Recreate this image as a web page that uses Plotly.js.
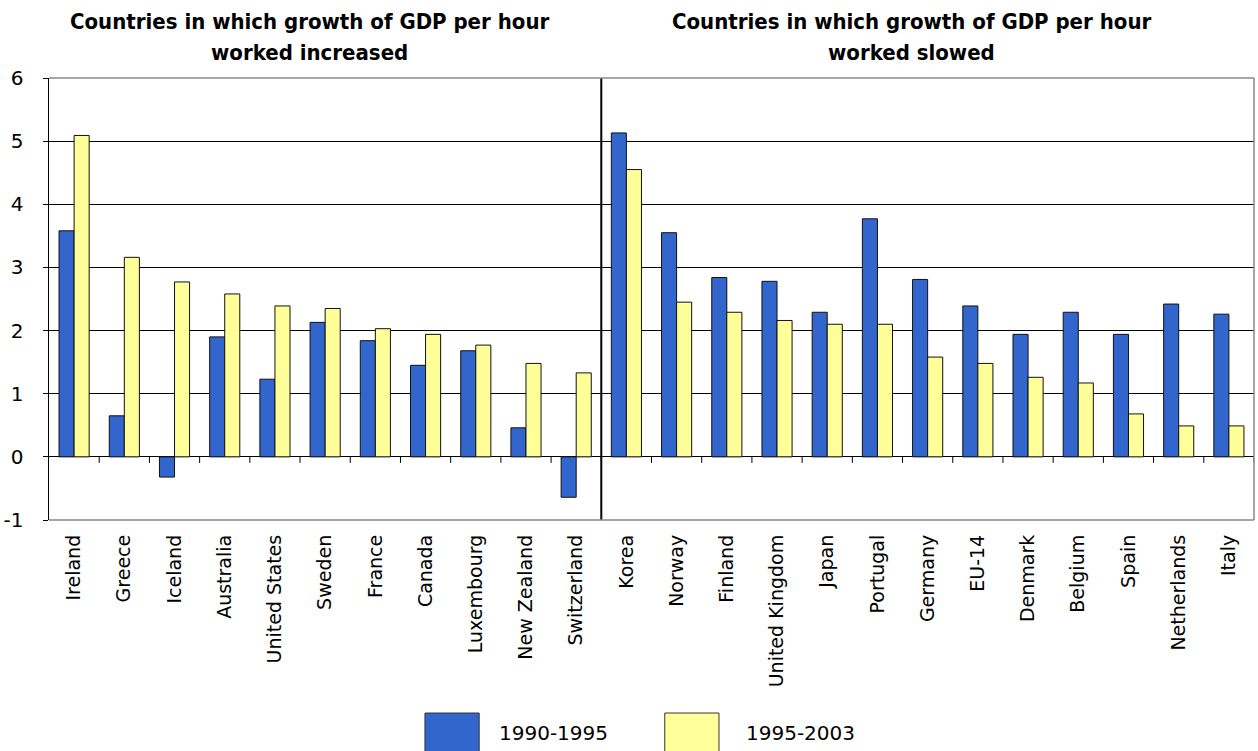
<!DOCTYPE html>
<html>
<head>
<meta charset="utf-8">
<script src="https://cdn.plot.ly/plotly-3.0.1.min.js"></script>
<style>html,body{margin:0;padding:0;background:#fff}#chart{width:1258px;height:751px}</style>
</head>
<body>
<div id="chart"></div>
<script>
// Categories: first 11 = growth increased, last 13 = growth slowed
const categories = ["Ireland","Greece","Iceland","Australia","United States","Sweden","France","Canada","Luxembourg","New Zealand","Switzerland",
  "Korea","Norway","Finland","United Kingdom","Japan","Portugal","Germany","EU-14","Denmark","Belgium","Spain","Netherlands","Italy"];
const increasedCount = 11;
const seriesNames = ["1990-1995","1995-2003"];
const values1990_1995 = [3.58,0.65,-0.32,1.90,1.23,2.13,1.84,1.45,1.68,0.46,-0.64,
  5.13,3.55,2.84,2.78,2.29,3.77,2.81,2.39,1.94,2.29,1.94,2.42,2.26];
const values1995_2003 = [5.09,3.16,2.77,2.58,2.39,2.35,2.03,1.94,1.77,1.48,1.33,
  4.55,2.45,2.29,2.16,2.10,2.10,1.58,1.48,1.26,1.17,0.68,0.49,0.49];
const yTicks = [-1,0,1,2,3,4,5,6];
const panelTitleLines = [["Countries in which growth of GDP per hour","worked increased"],
  ["Countries in which growth of GDP per hour","worked slowed"]];

const colors = ["#3366CC","#FFFF99"];
const FONT = "DejaVu Sans, Verdana, sans-serif";
const TFONT = "DejaVu Sans Condensed, DejaVu Sans, sans-serif";

const traces = [values1990_1995, values1995_2003].map((v,i)=>({
  type:"bar", x:categories, y:v, name:seriesNames[i],
  marker:{color:colors[i], line:{color:"#111", width:1}},
  showlegend:false, hoverinfo:"x+y+name"
}));

const shapes = [];
// tick marks on zero line at category boundaries
for (let i=0;i<categories.length;i++){
  shapes.push({type:"line", xref:"x", yref:"y", ysizemode:"pixel", yanchor:0,
    x0:i+0.5, x1:i+0.5, y0:-6, y1:0, line:{color:"#000", width:1}, layer:"above"});
}
// divider between the two groups
shapes.push({type:"line", xref:"x", yref:"paper", x0:increasedCount-0.5, x1:increasedCount-0.5, y0:0, y1:1,
  line:{color:"#000", width:2}, layer:"above"});
// plot border (grey top/right/bottom)
shapes.push({type:"line", xref:"paper", yref:"paper", x0:0, x1:1, y0:1, y1:1, line:{color:"#888", width:1.5}, layer:"above"});
shapes.push({type:"line", xref:"paper", yref:"paper", x0:1, x1:1, y0:0, y1:1, line:{color:"#888", width:1.5}, layer:"above"});
shapes.push({type:"line", xref:"paper", yref:"paper", x0:0, x1:1, y0:0, y1:0, line:{color:"#888", width:1.5}, layer:"above"});

// custom legend
const legendBoxes = [[0.312,0.357],[0.511,0.556]];
const legendText = [0.3718,0.5768];
const annotations = [];
legendBoxes.forEach((b,i)=>{
  shapes.push({type:"rect", xref:"paper", yref:"paper", x0:b[0], x1:b[1], y0:-0.56, y1:-0.4367,
    fillcolor:colors[i], line:{color:"#333", width:1}});
  annotations.push({xref:"paper", yref:"paper", x:legendText[i], y:-0.482, xanchor:"left", yanchor:"middle",
    text:seriesNames[i], showarrow:false, font:{family:FONT, size:20, color:"#000"}});
});
// panel titles
const leftCenter = (increasedCount-1)/2;
const rightCenter = increasedCount + (categories.length-increasedCount-1)/2;
const lineY = [1.1267, 1.0566];
[leftCenter,rightCenter].forEach((c,i)=>{
  panelTitleLines[i].forEach((t,j)=>{
    annotations.push({xref:"x", yref:"paper", x:c, y:lineY[j], xanchor:"center", yanchor:"middle", xshift:-16,
      text:"<b>"+t+"</b>", showarrow:false, font:{family:TFONT, size:22, color:"#000"}});
  });
});

const layout = {
  width:1258, height:751,
  margin:{l:49, r:4, t:78, b:231},
  paper_bgcolor:"#fff", plot_bgcolor:"#fff",
  barmode:"group", bargap:0.4, bargroupgap:0,
  font:{family:FONT, color:"#000"},
  xaxis:{type:"category", categoryorder:"array", categoryarray:categories,
    tickangle:-90, ticks:"", showgrid:false, showline:false, zeroline:false,
    tickfont:{family:FONT, size:19, color:"#000"}, ticklabelstandoff:10,
    range:[-0.5, categories.length-0.5], fixedrange:true},
  yaxis:{range:[-1,6], tickvals:yTicks, ticktext:yTicks.map(String),
    showgrid:true, gridcolor:"#000", gridwidth:1,
    zeroline:true, zerolinecolor:"#000", zerolinewidth:1,
    showline:true, linecolor:"#000", linewidth:1.5,
    ticks:"outside", ticklen:5, tickcolor:"#000",
    tickfont:{family:FONT, size:20, color:"#000"}, ticklabelstandoff:15, fixedrange:true},
  shapes:shapes, annotations:annotations
};

Plotly.newPlot("chart", traces, layout, {displayModeBar:false, staticPlot:true});
</script>
</body>
</html>
